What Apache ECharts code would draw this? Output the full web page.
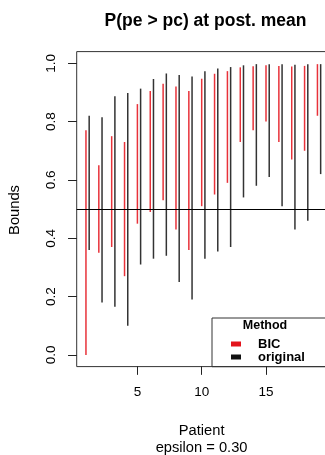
<!DOCTYPE html>
<html>
<head>
<meta charset="utf-8">
<script src="https://cdn.jsdelivr.net/npm/echarts@6/dist/echarts.min.js"></script>
<style>html,body{margin:0;padding:0;background:#fff}#c{width:325px;height:455px}</style>
</head>
<body>
<div id="c"></div>
<script>
const patients = [1,2,3,4,5,6,7,8,9,10,11,12,13,14,15,16,17,18,19];
const bicLow   = [0.00,0.35,0.37,0.27,0.45,0.49,0.53,0.43,0.36,0.51,0.55,0.59,0.73,0.77,0.80,0.73,0.67,0.70,0.82];
const bicHigh  = [0.77,0.65,0.75,0.73,0.86,0.905,0.93,0.92,0.905,0.947,0.964,0.973,0.986,0.99,0.993,0.991,0.989,0.991,0.997];
const origLow  = [0.36,0.18,0.165,0.10,0.31,0.33,0.34,0.25,0.19,0.33,0.355,0.37,0.54,0.58,0.61,0.51,0.43,0.46,0.62];
const origHigh = [0.82,0.815,0.887,0.898,0.913,0.946,0.965,0.96,0.955,0.973,0.982,0.987,0.993,0.997,0.997,0.997,0.995,0.997,0.997];
const yTicks = [0, 0.2, 0.4, 0.6, 0.8, 1.0];
const xTicks = [5, 10, 15];
const threshold = 0.5;

const FONT = '"Liberation Sans", Arial, Helvetica, sans-serif';
const X_MIN = 0.28, X_MAX = 19.72, Y_MIN = -0.04, Y_MAX = 1.04;
const chart = echarts.init(document.getElementById('c'), null, {renderer: 'canvas'});

function seg(color, offset) {
  return function (params, api) {
    const x = api.value(0);
    const p1 = api.coord([x + offset, api.value(1)]);
    const p2 = api.coord([x + offset, api.value(2)]);
    return {type: 'line', shape: {x1: p1[0], y1: p1[1], x2: p2[0], y2: p2[1]},
            style: {stroke: color, lineWidth: 1.5}};
  };
}

const bicData = patients.map((p, i) => [p, bicLow[i], bicHigh[i]]);
const origData = patients.map((p, i) => [p, origLow[i], origHigh[i]]);

const L = 76.7, T = 51.6, W = 250, H = 315;
const hidden = {show: false};

chart.setOption({
  animation: false,
  backgroundColor: '#fff',
  title: {
    text: 'P(pe > pc) at post. mean',
    left: 200.5, top: 7, textAlign: 'center',
    textStyle: {fontFamily: FONT, fontSize: 17.5, fontWeight: 'bold', color: '#000'}
  },
  grid: [
    {left: L, top: T, width: W, height: H, show: true, containLabel: false, outerBoundsMode: 'none',
     borderColor: '#333', borderWidth: 1, backgroundColor: 'transparent'},
    // thin strip under the plot box holding the x tick marks
    {left: L, top: T + H, width: W, height: 8, containLabel: false, outerBoundsMode: 'none'},
    // thin strip left of the plot box holding the y tick marks
    {left: L - 8.5, top: T, width: 8.5, height: H, containLabel: false, outerBoundsMode: 'none'}
  ],
  xAxis: [
    {gridIndex: 0, type: 'value', min: X_MIN, max: X_MAX,
     axisLine: {show: false, onZero: false}, splitLine: hidden,
     axisTick: {show: true, length: 8, customValues: xTicks, lineStyle: {color: '#222'}},
     axisLabel: {customValues: xTicks, margin: 19, fontFamily: FONT, fontSize: 13.5, color: '#000'}},
    {gridIndex: 1, type: 'value', min: X_MIN, max: X_MAX, position: 'top',
     axisLine: {show: false, onZero: false}, splitLine: hidden, axisLabel: hidden,
     axisTick: {show: true, inside: true, length: 8, customValues: xTicks, lineStyle: {color: '#222', width: 1}}},
    {gridIndex: 2, type: 'value', min: 0, max: 1, show: false}
  ],
  yAxis: [
    {gridIndex: 0, type: 'value', min: Y_MIN, max: Y_MAX,
     axisLine: {show: false, onZero: false}, splitLine: hidden,
     axisTick: {show: true, length: 8.5, customValues: yTicks, lineStyle: {color: '#222'}},
     axisLabel: {customValues: yTicks, rotate: 90, margin: 18, fontFamily: FONT, fontSize: 13.5, color: '#000',
                 formatter: v => v.toFixed(1)}},
    {gridIndex: 1, type: 'value', min: 0, max: 1, show: false},
    {gridIndex: 2, type: 'value', min: Y_MIN, max: Y_MAX, position: 'right',
     axisLine: {show: false, onZero: false}, splitLine: hidden, axisLabel: hidden,
     axisTick: {show: true, inside: true, length: 8.5, customValues: yTicks, lineStyle: {color: '#222', width: 1}}}
  ],
  legend: {
    orient: 'vertical', left: 226, top: 332.5, itemGap: 0,
    itemWidth: 10, itemHeight: 5, icon: 'rect',
    data: ['BIC', 'original'],
    textStyle: {fontFamily: FONT, fontSize: 13, fontWeight: 'bold', color: '#000', padding: [0, 0, 0, 12], lineHeight: 11}
  },
  graphic: [
    {type: 'rect', shape: {x: 212, y: 318, width: 130, height: 48.7},
     style: {fill: '#fff', stroke: '#333', lineWidth: 1}, z: -1},
    {type: 'text', x: 265, y: 325.5,
     style: {text: 'Method', fontFamily: FONT, fontSize: 12.5, fontWeight: 'bold', fill: '#000',
             textAlign: 'center', textVerticalAlign: 'middle'}},
    {type: 'text', x: 201.6, y: 430.5,
     style: {text: 'Patient', fontFamily: FONT, fontSize: 14.7, fill: '#000',
             textAlign: 'center', textVerticalAlign: 'middle'}},
    {type: 'text', x: 201.6, y: 447.5,
     style: {text: 'epsilon = 0.30', fontFamily: FONT, fontSize: 14.7, fill: '#000',
             textAlign: 'center', textVerticalAlign: 'middle'}},
    {type: 'text', x: 15, y: 210, rotation: Math.PI / 2,
     style: {text: 'Bounds', fontFamily: FONT, fontSize: 14.7, fill: '#000',
             textAlign: 'center', textVerticalAlign: 'middle'}}
  ],
  series: [
    {name: 'BIC', type: 'custom', xAxisIndex: 0, yAxisIndex: 0, data: bicData, encode: {x: 0, y: [1, 2]},
     itemStyle: {color: '#e3141c'}, renderItem: seg('#e8323a', 0),
     markLine: {silent: true, symbol: 'none', label: {show: false},
                lineStyle: {color: '#000', type: 'solid', width: 1},
                data: [{yAxis: threshold}]}},
    {name: 'original', type: 'custom', xAxisIndex: 0, yAxisIndex: 0, data: origData, encode: {x: 0, y: [1, 2]},
     itemStyle: {color: '#111'}, renderItem: seg('#333', 0.25)}
  ]
});
</script>
</body>
</html>
